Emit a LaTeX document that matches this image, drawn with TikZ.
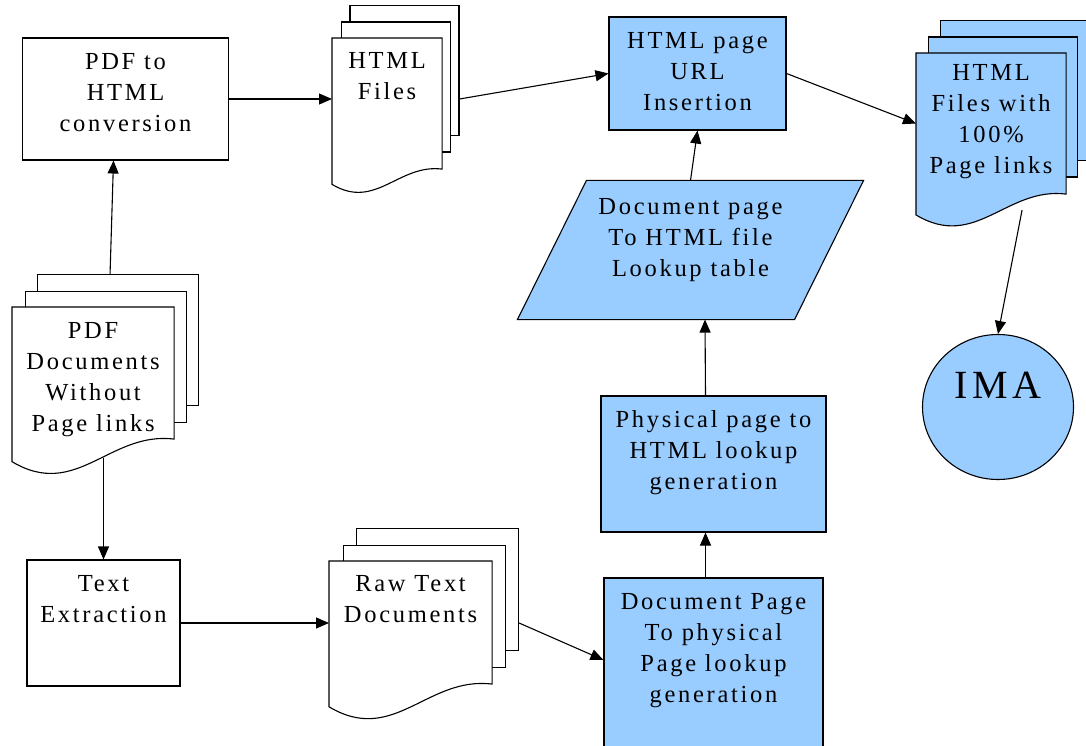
\documentclass[tikz,border=0pt]{standalone}
\usepackage{fontspec}
\setmainfont{Liberation Serif}[LetterSpace=11]
\usetikzlibrary{arrows.meta,positioning,calc,shapes.geometric}
\definecolor{pageblue}{HTML}{99CCFF}

\tikzset{
  box/.style={draw=black, line width=1.1pt, rectangle, inner sep=0},
  page/.style={box, anchor=north west},
  txt/.style={align=center, inner sep=0, font=\fontsize{24.5}{31}\selectfont},
}

% stack of pages: name, left, top, width, height, offset, fill
\newcommand{\docstack}[7]{%
  \foreach \k in {2,1}
    \node[page, fill=#7, minimum width=#4pt, minimum height=#5pt] (#1-\k) at ({#2+\k*#6},{#3-\k*16.5}) {};
  \node[page, draw=none, minimum width=#4pt, minimum height=#5pt] (#1) at (#2,#3) {};
  \filldraw[fill=#7] (#1.north west) -- (#1.north east) -- (#1.south east)
    .. controls +({-0.4*#4},{-0.05*#4}) and +({0.4*#4},{0.24*#4}) .. ($(#1.south west)+(0,{0.14*#4})$) -- cycle;
}

\begin{document}
\begin{tikzpicture}[x=1pt, y=-1pt, ->, >={Triangle[length=13pt,width=11pt]}, line width=1.1pt]
\useasboundingbox (0,0) rectangle (1086,746);
\clip (0,0) rectangle (1086,746);
\fill[white] (0,0) rectangle (1086,746);

% process boxes
\node[box, minimum width=206pt, minimum height=122pt] (conv) at (125.5,99) {};
\node[txt, below=15pt of conv.north] (conv-t) {PDF to\\HTML\\conversion};
\node[box, minimum width=153pt, minimum height=126pt] (textex) at (103.5,623) {};
\node[txt, below=15pt of textex.north] (textex-t) {Text\\Extraction};
\node[box, fill=pageblue, minimum width=177pt, minimum height=113pt] (url) at (697.5,73.5) {};
\node[txt, below=15pt of url.north] (url-t) {HTML page\\URL\\Insertion};
\node[box, fill=pageblue, minimum width=225pt, minimum height=136pt] (phys) at (713.5,464) {};
\node[txt, below=14pt of phys.north] (phys-t) {Physical page to\\HTML lookup\\generation};
\node[box, fill=pageblue, minimum width=219pt, minimum height=180pt] (docpage) at (713.5,668) {};
\node[txt, below=15pt of docpage.north] (docpage-t) {Document Page\\To physical\\Page lookup\\generation};

% lookup table
\node[minimum width=276pt, minimum height=138pt, inner sep=0] (lookup) at (690.5,250) {};
\filldraw[fill=pageblue] ([xshift=34.5pt]lookup.north west) -- ([xshift=34.5pt]lookup.north east)
  -- ([xshift=-34.5pt]lookup.south east) -- ([xshift=-34.5pt]lookup.south west) -- cycle;
\node[txt, below=17pt of lookup.north] (lookup-t) {Document page\\To HTML file\\Lookup table};

% documents
\docstack{htmlfiles}{332}{38}{109}{130}{8.7}{white}
\node[txt, below=14pt of htmlfiles.north] (htmlfiles-t) {HTML\\Files};
\docstack{hfw}{916}{53}{149}{140}{12}{pageblue}
\node[txt, below=11pt of hfw.north] (hfw-t) {HTML\\Files with\\100\%\\Page links};
\docstack{rawtext}{329}{561}{162}{122}{13.5}{white}
\node[txt, below=14pt of rawtext.north] (rawtext-t) {Raw Text\\Documents};
\docstack{pdfdocs}{12}{307}{161}{131}{12.5}{white}
\node[txt, below=15pt of pdfdocs.north] (pdfdocs-t) {PDF\\Documents\\Without\\Page links};

\node[ellipse, draw, fill=pageblue, minimum width=151pt, minimum height=145pt, inner sep=0,
  font=\fontsize{40}{40}\selectfont, text depth=44pt] (ima) at (998,407) {IMA};

% flow
\draw ([xshift=-8pt]pdfdocs-2.north) -- ([xshift=-12pt]conv.south);
\draw (pdfdocs.south -| textex.north) ++(0,19) -- (textex.north);
\draw (conv) -- (conv -| htmlfiles.west);
\draw (htmlfiles-2.east |- conv) -- (url.west);
\draw (url.east) -- (hfw.west);
\draw ([xshift=31pt]hfw.south) ++(0,16) -- (ima.north);
\draw (textex) -- (textex -| rawtext.west);
\draw (rawtext-2.east |- textex) -- ([yshift=8pt]docpage.west);
\draw ([xshift=-8pt]docpage.north) -- ([xshift=-8pt]phys.south);
\draw ([xshift=-8pt]phys.north) -- ([xshift=14.5pt]lookup.south);
\draw (lookup.north) -- (url.south);
\end{tikzpicture}
\end{document}
